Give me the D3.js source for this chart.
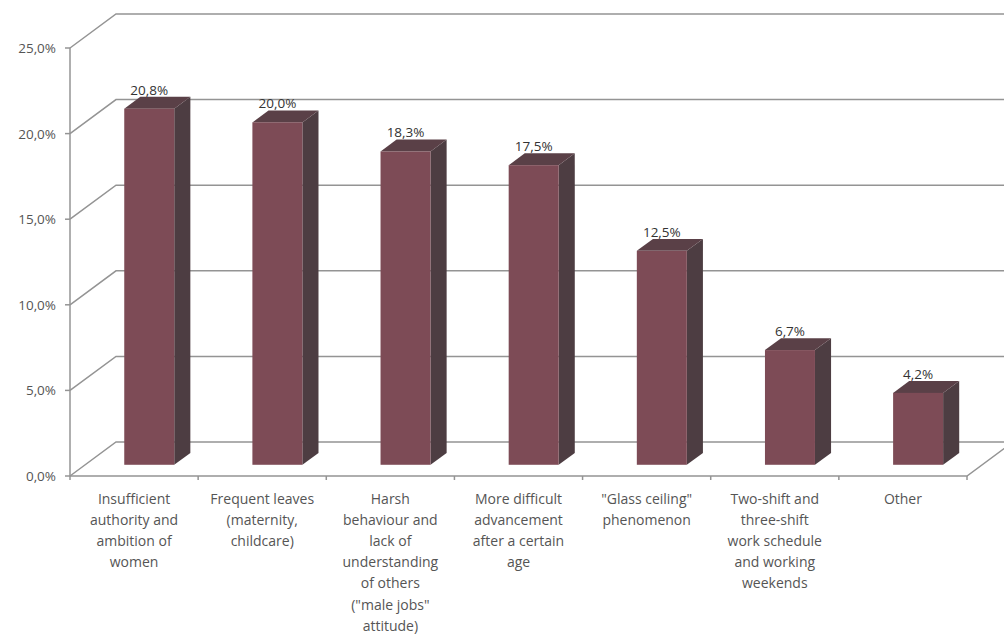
<!DOCTYPE html>
<html>
<head>
<meta charset="utf-8">
<script src="https://cdn.jsdelivr.net/npm/d3@7"></script>
<style>
  body { margin: 0; background: #fff; }
  svg { display: block; font-family: 'Open Sans', sans-serif; }
</style>
</head>
<body>
<div id="chart"></div>
<script>
// data
var categories = ["c1", "c2", "c3", "c4", "c5", "c6", "c7"];
var categoryLines = [
    ["Insufficient", "authority and", "ambition of", "women"],
    ["Frequent leaves", "(maternity,", "childcare)"],
    ["Harsh", "behaviour and", "lack of", "understanding", "of others", "(\"male jobs\"", "attitude)"],
    ["More difficult", "advancement", "after a certain", "age"],
    ["\"Glass ceiling\"", "phenomenon"],
    ["Two-shift and", "three-shift", "work schedule", "and working", "weekends"],
    ["Other"]
];
var values = [20.8, 20.0, 18.3, 17.5, 12.5, 6.7, 4.2];
var yTicks = [0, 5, 10, 15, 20, 25];

var width = 1004, height = 637;
// 3D depth offset of the back wall
var depth = {dx: 46, dy: -34};
var barFront = 0.33, barBack = 0.68;   // bar position within the depth
var barWidth = 50;

var fmt = function(v) { return d3.format(".1f")(v).replace(".", ",") + "%"; };

var x = d3.scaleBand().domain(categories).range([70, 967]);
var y = d3.scaleLinear().domain([0, 25]).range([476, 48]);

var svg = d3.select("#chart").append("svg")
    .attr("width", width)
    .attr("height", height);

var grid = svg.append("g");
var lineColor = "#949494";

// gridlines: left wall diagonal + back wall horizontal
yTicks.forEach(function(t) {
    var yy = y(t);
    var x0 = x.range()[0], x1 = x.range()[1];
    var pts = [[x0, yy], [x0 + depth.dx, yy + depth.dy], [x1 + depth.dx, yy + depth.dy]];
    grid.append("path")
        .attr("d", d3.line()(pts))
        .attr("fill", "none")
        .attr("stroke", lineColor)
        .attr("stroke-width", 1.5);
});

// floor front edge and right diagonal
(function() {
    var x0 = x.range()[0], x1 = x.range()[1], y0 = y(0);
    grid.append("path")
        .attr("d", d3.line()([[x0, y0], [x1, y0], [x1 + depth.dx, y0 + depth.dy]]))
        .attr("fill", "none")
        .attr("stroke", lineColor)
        .attr("stroke-width", 1.5);
})();

// y axis line with ticks
grid.append("line")
    .attr("x1", 70).attr("x2", 70)
    .attr("y1", y(25)).attr("y2", y(0))
    .attr("stroke", lineColor).attr("stroke-width", 1.5);
yTicks.forEach(function(t) {
    grid.append("line")
        .attr("x1", 65).attr("x2", 70)
        .attr("y1", y(t)).attr("y2", y(t))
        .attr("stroke", lineColor).attr("stroke-width", 1.5);
    svg.append("text")
        .attr("x", 56)
        .attr("y", y(t) + 5)
        .attr("text-anchor", "end")
        .attr("fill", "#555")
        .style("font-size", "13.5px")
        .text(fmt(t));
});

// category ticks
d3.range(categories.length + 1).forEach(function(i) {
    var xx = x.range()[0] + i * x.bandwidth();
    grid.append("line")
        .attr("x1", xx).attr("x2", xx)
        .attr("y1", y(0)).attr("y2", y(0) + 4)
        .attr("stroke", lineColor).attr("stroke-width", 1.5);
});

// 3D bars
var bars = svg.append("g");
categories.forEach(function(c, i) {
    var cx = x(c) + x.bandwidth() / 2;
    var fx = cx - barWidth / 2 + depth.dx * barFront;
    var fy0 = y(0) + depth.dy * barFront;
    var fy1 = y(values[i]) + depth.dy * barFront;
    var bdx = depth.dx * (barBack - barFront), bdy = depth.dy * (barBack - barFront);

    // side face
    bars.append("path")
        .attr("d", d3.line()([[fx + barWidth, fy1], [fx + barWidth + bdx, fy1 + bdy],
            [fx + barWidth + bdx, fy0 + bdy], [fx + barWidth, fy0]]) + "Z")
        .attr("fill", "#4d3d42");
    // top face
    bars.append("path")
        .attr("d", d3.line()([[fx, fy1], [fx + bdx, fy1 + bdy],
            [fx + barWidth + bdx, fy1 + bdy], [fx + barWidth, fy1]]) + "Z")
        .attr("fill", "#5a4047");
    // front face
    bars.append("rect")
        .attr("x", fx)
        .attr("y", fy1)
        .attr("width", barWidth)
        .attr("height", fy0 - fy1)
        .attr("fill", "#7d4b56");

    // value label
    svg.append("text")
        .attr("x", fx + barWidth / 2)
        .attr("y", fy1 - 14)
        .attr("text-anchor", "middle")
        .attr("fill", "#333")
        .style("font-size", "13.5px")
        .text(fmt(values[i]));

    // category label
    var lbl = svg.append("text")
        .attr("text-anchor", "middle")
        .attr("fill", "#555")
        .style("font-size", "14px");
    categoryLines[i].forEach(function(line, j) {
        lbl.append("tspan")
            .attr("x", cx)
            .attr("y", 504 + j * 21.1)
            .text(line);
    });
});
</script>
</body>
</html>
